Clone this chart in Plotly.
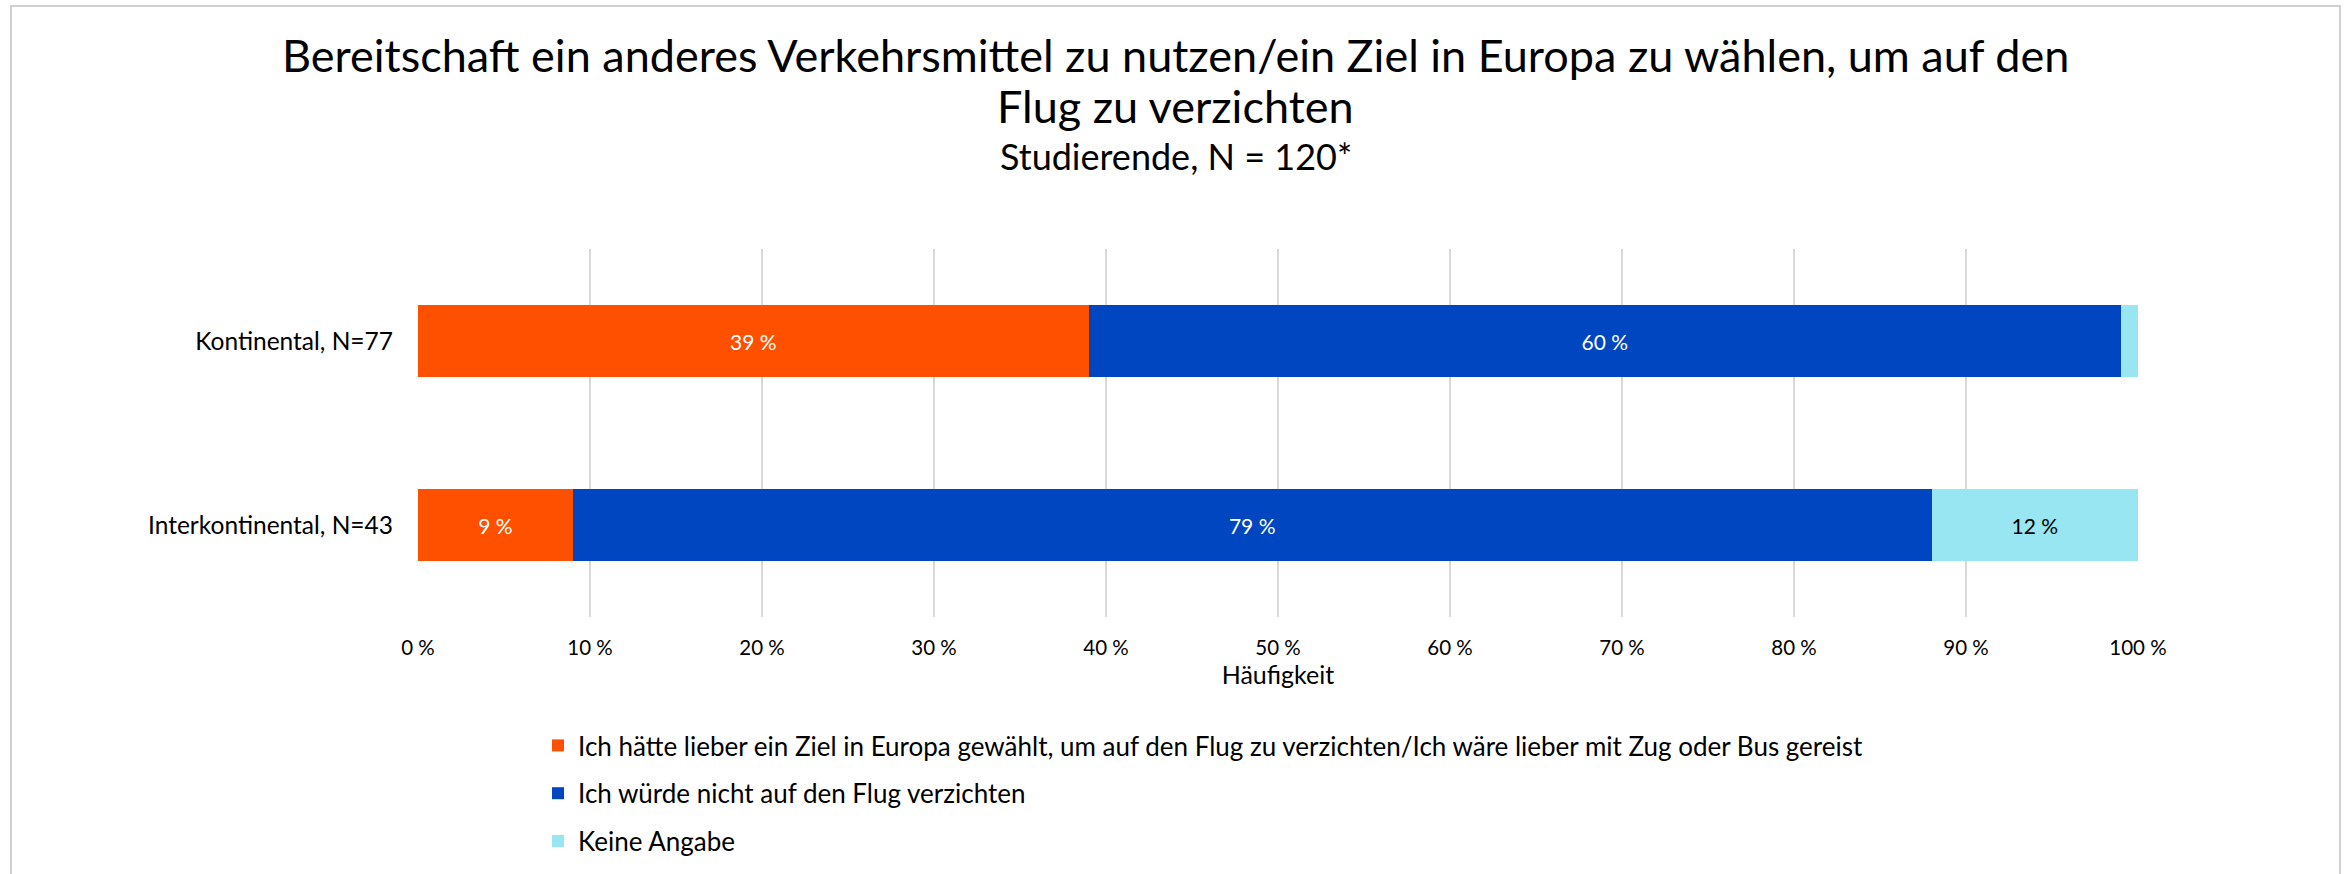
import plotly.graph_objects as go

# Survey data (share of respondents, %)
categories = ["Kontinental, N=77", "Interkontinental, N=43"]
series_names = [
    "Ich hätte lieber ein Ziel in Europa gewählt, um auf den Flug zu verzichten/Ich wäre lieber mit Zug oder Bus gereist",
    "Ich würde nicht auf den Flug verzichten",
    "Keine Angabe",
]
values_europa = [39, 9]
values_fliegen = [60, 79]
values_keine = [1, 12]
labels_keine = ["", "12 %"]

tick_values = [0, 10, 20, 30, 40, 50, 60, 70, 80, 90, 100]
tick_labels = [f"{v} %" for v in tick_values]

title_lines = [
    "Bereitschaft ein anderes Verkehrsmittel zu nutzen/ein Ziel in Europa zu wählen, um auf den",
    "Flug zu verzichten",
]
subtitle = "Studierende, N = 120*"

colors = ["#FF5000", "#0046C1", "#97E6F2"]
label_colors = ["white", "white", "black"]

FONT = "Lato"
W, H = 2351, 874
L, R, T, B = 418, 213, 249, 257

series = [
    (values_europa, [f"{v} %" for v in values_europa]),
    (values_fliegen, [f"{v} %" for v in values_fliegen]),
    (values_keine, labels_keine),
]

fig = go.Figure()
for i, (vals, txt) in enumerate(series):
    fig.add_trace(go.Bar(
        name=series_names[i],
        y=categories,
        x=vals,
        orientation="h",
        marker=dict(color=colors[i], line=dict(width=0)),
        text=txt,
        texttemplate="%{text}",
        textposition="inside",
        insidetextanchor="middle",
        textfont=dict(family=FONT, size=21, color=label_colors[i]),
        legendgroup=f"g{i}",
        hoverinfo="skip",
    ))

# helpers to place items in pixel terms relative to the plot area
plot_w = W - L - R
plot_h = H - T - B


def px_x(px):
    return (px - L) / plot_w


def px_y(py):
    return (H - B - py) / plot_h


header = [
    (title_lines[0], 55, 45),
    (title_lines[1], 106, 45),
    (subtitle, 156, 36),
]
annotations = [
    dict(
        text=txt,
        x=px_x(W / 2), xref="paper", xanchor="center",
        y=px_y(yc), yref="paper", yanchor="middle",
        showarrow=False,
        font=dict(family=FONT, size=size, color="black"),
    )
    for txt, yc, size in header
]

fig.update_layout(
    width=W,
    height=H,
    margin=dict(l=L, r=R, t=T, b=B, autoexpand=False),
    paper_bgcolor="white",
    plot_bgcolor="white",
    barmode="stack",
    bargap=0.605,
    font=dict(family=FONT, color="black"),
    xaxis=dict(
        range=[0, 100],
        tickvals=tick_values,
        ticktext=tick_labels,
        tickfont=dict(family=FONT, size=20.5, color="black"),
        showgrid=True,
        gridcolor="#D9D9D9",
        gridwidth=2,
        zeroline=False,
        showline=False,
        ticks="",
        ticklabelstandoff=16,
        title=dict(text="Häufigkeit", font=dict(family=FONT, size=25, color="black"), standoff=8),
        fixedrange=True,
    ),
    yaxis=dict(
        autorange="reversed",
        tickfont=dict(family=FONT, size=24.5, color="black"),
        showgrid=False,
        zeroline=False,
        showline=False,
        ticks="",
        ticklabelstandoff=24,
        fixedrange=True,
    ),
    legend=dict(
        orientation="v",
        x=px_x(538), xanchor="left",
        y=px_y(722), yanchor="top",
        font=dict(family=FONT, size=26, color="black"),
        tracegroupgap=11,
        itemclick=False,
        itemdoubleclick=False,
        bgcolor="rgba(0,0,0,0)",
    ),
    annotations=annotations,
    shapes=[
        dict(
            type="rect", xref="paper", yref="paper",
            x0=px_x(11), x1=px_x(2340), y0=px_y(H + 20), y1=px_y(6),
            line=dict(color="#D0D0D0", width=2),
            fillcolor="rgba(0,0,0,0)",
            layer="below",
        ),
    ],
    showlegend=True,
)

fig.write_html("out.html", config={"displayModeBar": False})
